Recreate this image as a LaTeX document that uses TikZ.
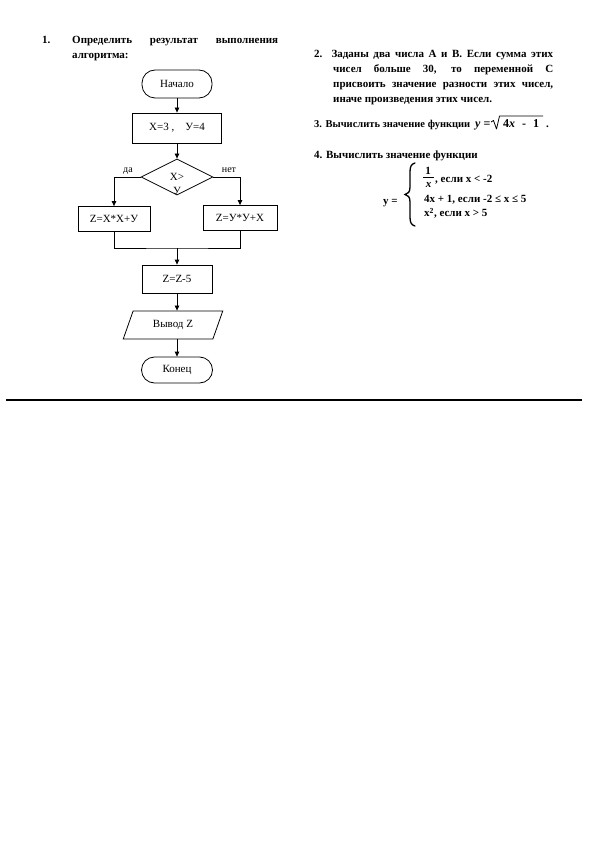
\documentclass[tikz,border=0pt]{standalone}
\usepackage{fontspec}
\setmainfont{Liberation Serif}
\usetikzlibrary{shapes.geometric,arrows.meta}
\begin{document}
\begin{tikzpicture}[x=1pt,y=-1pt,
  flow/.style={draw, line width=0.8pt, inner sep=0pt, font=\fontsize{11}{13}\selectfont},
  proc/.style={flow, rectangle, minimum width=#1, minimum height=25pt},
  term/.style={flow, rectangle, rounded corners=13pt, minimum width=70pt, minimum height=27pt},
  arr/.style={line width=0.8pt, -{Triangle[length=5pt,width=4.5pt]}},
  ln/.style={line width=0.8pt},
  txt/.style={inner sep=0pt, font=\fontsize{11}{15}\selectfont\bfseries},
  mth/.style={inner sep=0pt, font=\fontsize{12}{14}\selectfont\bfseries},
  lbl/.style={inner sep=0pt, font=\fontsize{10}{12}\selectfont}
]
\useasboundingbox (0,0) rectangle (595,842);

% ---- task 1 heading
\node[txt, anchor=base west] (n1) at (42,44) {1.};
\node[txt, anchor=base west] (t1) at (72,44) {\parbox[t]{206pt}{\fontsize{11}{15}\selectfont\bfseries
  Определить результат выполнения\linebreak алгоритма:}};

% ---- flowchart
\node[term, minimum width=70pt, minimum height=28pt] (start) at (177,84) {Начало};
\node[proc=89pt, minimum height=30pt] (init) at (177,128) {X=3 ,\quad У=4};
\node[flow, diamond, minimum width=72pt, minimum height=36pt] (cond) at (177,177) {};
\node[lbl, font=\fontsize{11}{13}\selectfont] (c1) at (177,177) {X>};
\node[lbl, font=\fontsize{11}{13}\selectfont] (c2) at (177,191) {У};
\node[proc=72pt] (zl) at (114,219) {Z=X*X+У};
\node[proc=74pt] (zr) at (240,218) {Z=У*У+X};
\coordinate (merge) at (177,248);
\node[proc=70pt, minimum height=28pt] (zz) at (177,279) {Z=Z-5};
\node[flow, trapezium, trapezium left angle=62, trapezium right angle=118,
      trapezium stretches=true, minimum width=100pt, minimum height=28pt] (out) at (173,325) {Вывод Z};
\node[term, minimum width=71pt, minimum height=26pt] (fin) at (177,370) {Конец};

\node[lbl, anchor=base] (yes) at (128,173) {да};
\node[lbl, anchor=base] (no) at (229,173) {нет};

\draw[arr] (start) -- (init);
\draw[arr] (init) -- (cond);
\draw[arr] (cond.west) -| (zl.north);
\draw[arr] (cond.east) -| (zr.north);
\draw[ln] (zl.south) |- (merge) -| (zr.south);
\draw[arr] (merge) -- (zz);
\draw[arr] (zz.south) -- (zz.south |- out.north);
\draw[arr] (out.south -| fin.north) -- (fin.north);

% ---- task 2
\node[txt, anchor=base west] (t2) at (314,58) {\parbox[t]{239pt}{\fontsize{11}{15}\selectfont\bfseries
  \hangindent=19pt\hangafter=1
  2. Заданы два числа А и В. Если сумма этих\linebreak
  чисел больше 30, то переменной С\linebreak
  присвоить значение разности этих чисел,\linebreak
  иначе произведения этих чисел.}};

% ---- task 3
\node[txt, font=\fontsize{10.5}{15}\selectfont\bfseries, anchor=base west] (t3) at (314,128) {3. Вычислить значение функции};
\node[mth, anchor=base west] (m3a) at (475,128) {\textit{y} =};
\node[mth, anchor=base west] (m3b) at (503,128) {4\textit{x}\hspace{7pt}-\hspace{7pt}1};
\draw[line width=0.8pt, line join=round] (491,122) -- (493.5,120.5) -- (496.5,129) -- (499.5,116) -- (543,116);
\node[txt, anchor=base west] (m3c) at (546,128) {.};

% ---- task 4
\node[txt, anchor=base west] (t4) at (314,159) {4. Вычислить значение функции};
\node[txt, anchor=base west] (yeq) at (383,205) {y =};
\draw[line width=1.3pt, line cap=round]
  (415,163) .. controls (411,164) and (410,167) .. (410,172)
  -- (410,187) .. controls (410,192) and (408,194) .. (405,194.5)
  .. controls (408,195) and (410,197) .. (410,202)
  -- (410,217) .. controls (410,222) and (411,225) .. (415,226);
\node[txt] (num) at (428,171) {1};
\node[txt] (den) at (428.5,185) {\textit{x}};
\draw[line width=0.7pt] (423,177.5) -- (434,177.5);
\node[txt, anchor=base west] (l1) at (435,183) {, если x < -2};
\node[txt, anchor=base west] (l2) at (424,203) {4x + 1, если -2 ≤ x ≤ 5};
\node[txt, anchor=base west] (l3) at (424,217) {x\textsuperscript{2}, если x > 5};

% ---- rule
\draw[line width=2pt] (6,400) -- (582,400);
\end{tikzpicture}
\end{document}
